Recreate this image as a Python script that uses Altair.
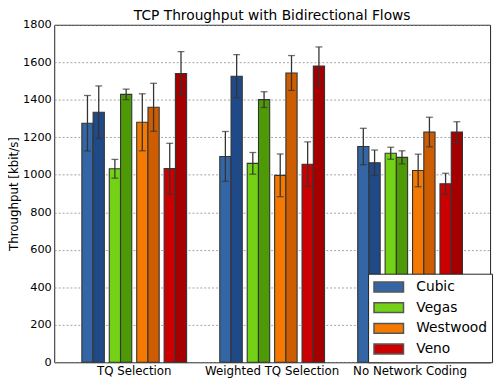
import altair as alt
import pandas as pd

groups = ["TQ Selection", "Weighted TQ Selection", "No Network Coding"]
protocols = ["Cubic", "Vegas", "Westwood", "Veno"]
light_colors = ["#3465a4", "#73d216", "#f57900", "#cc0000"]
dark_colors = ["#204a87", "#4e9a06", "#ce5c00", "#a40000"]
y_ticks = [0, 200, 400, 600, 800, 1000, 1200, 1400, 1600, 1800]

# mean throughput, flow 1 (lighter bar) per group, per protocol
flow1_mean = [
    [1275, 1032, 1280, 1033],
    [1098, 1061, 997, 1056],
    [1151, 1115, 1023, 952],
]
flow1_err = [
    [148, 50, 152, 135],
    [133, 58, 114, 119],
    [97, 32, 87, 56],
]
# mean throughput, flow 2 (darker bar)
flow2_mean = [
    [1334, 1429, 1360, 1540],
    [1526, 1401, 1543, 1580],
    [1064, 1093, 1228, 1228],
]
flow2_err = [
    [140, 28, 128, 117],
    [115, 42, 93, 102],
    [68, 35, 79, 55],
]

rows = []
for gi, g in enumerate(groups):
    for pi, p in enumerate(protocols):
        rows.append(dict(group=g, protocol=p, pidx=pi, flow=0,
                         mean=flow1_mean[gi][pi], err=flow1_err[gi][pi]))
        rows.append(dict(group=g, protocol=p, pidx=pi, flow=1,
                         mean=flow2_mean[gi][pi], err=flow2_err[gi][pi]))
df = pd.DataFrame(rows)

FONT = "DejaVu Sans"
BAR_W = 11.4

base = alt.Chart(df).transform_calculate(
    slot="datum.pidx * 2.433 + datum.flow + 0.5",
    lo="datum.mean - datum.err",
    hi="datum.mean + datum.err",
)

x_enc = alt.X("group:N", sort=groups, title=None,
              scale=alt.Scale(paddingInner=0.24, paddingOuter=0.2),
              axis=alt.Axis(labelAngle=0, labelFontSize=12, labelFont=FONT,
                            labelColor="#000", ticks=False, domain=False,
                            labelPadding=3, grid=False))
xo_enc = alt.XOffset("slot:Q", scale=alt.Scale(domain=[0, 9.3], nice=False, zero=False))
y_scale = alt.Scale(domain=[0, 1800], nice=False)
y_axis = alt.Axis(values=y_ticks, format="d", labelOverlap=False,
                  labelFontSize=11.5, labelFont=FONT,
                  labelColor="#000", ticks=False, domain=False, labelPadding=3,
                  grid=True, gridDash=[2, 2], gridColor="#8a8a8a", gridWidth=0.8,
                  titleFont=FONT, titleFontSize=12, titleFontWeight="normal",
                  titleColor="#000", titlePadding=2)
Y_TITLE = "Throughput [kbit/s]"


def ych(field):
    return alt.Y(field, scale=y_scale, axis=y_axis, title=Y_TITLE)


bars1 = base.transform_filter("datum.flow == 0").mark_bar(
    width=BAR_W, stroke="#333", strokeWidth=1.1
).encode(
    x=x_enc,
    xOffset=xo_enc,
    y=ych("mean:Q"),
    color=alt.Color("protocol:N", sort=protocols,
                    scale=alt.Scale(domain=protocols, range=light_colors),
                    legend=alt.Legend(
                        title=None, orient="none", legendX=319, legendY=253,
                        symbolType="M-1,-0.667H3V0.667H-1Z", symbolSize=225,
                        symbolStrokeColor="#555", symbolStrokeWidth=1.5,
                        symbolOpacity=1,
                        labelFont=FONT, labelFontSize=14, labelColor="#000",
                        labelOffset=27, rowPadding=4, padding=5,
                        strokeColor="#222", fillColor="#ffffff",
                    )),
)

bars2 = base.transform_filter("datum.flow == 1").mark_bar(
    width=BAR_W, stroke="#333", strokeWidth=1.1
).encode(
    x=x_enc,
    xOffset=xo_enc,
    y=ych("mean:Q"),
    color=alt.Color("protocol:N", sort=protocols,
                    scale=alt.Scale(domain=protocols, range=dark_colors),
                    legend=None),
)

err_rule = base.mark_rule(color="#333", strokeWidth=1.3).encode(
    x=x_enc, xOffset=xo_enc,
    y=ych("lo:Q"),
    y2="hi:Q",
)
cap_hi = base.mark_tick(color="#333", size=7, thickness=1.3, orient="horizontal").encode(
    x=x_enc, xOffset=xo_enc, y=ych("hi:Q"),
)
cap_lo = base.mark_tick(color="#333", size=7, thickness=1.3, orient="horizontal").encode(
    x=x_enc, xOffset=xo_enc, y=ych("lo:Q"),
)

chart = alt.layer(bars1, bars2, err_rule, cap_hi, cap_lo).resolve_scale(
    color="independent"
).properties(
    width=443, height=343,
    title=alt.TitleParams("TCP Throughput with Bidirectional Flows", font=FONT,
                          fontSize=14, fontWeight="normal", color="#000",
                          anchor="middle", offset=1, dy=5),
    autosize=alt.AutoSizeParams(type="none"),
    padding={"left": 47, "top": 14, "right": 5, "bottom": 19},
).configure_view(stroke="#222", strokeWidth=1)

chart.save("out.html", embed_options={"renderer": "svg", "actions": False})
